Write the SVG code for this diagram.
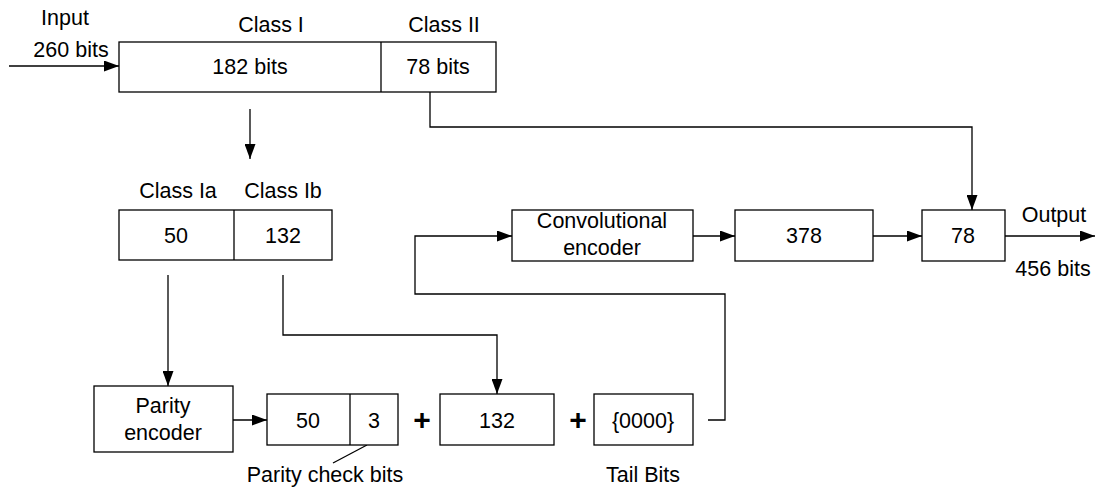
<svg xmlns="http://www.w3.org/2000/svg" width="1097" height="491" viewBox="0 0 1097 491">
  <defs>
    <marker id="arrow" viewBox="0 0 15 11" refX="15" refY="5.5" markerWidth="15" markerHeight="11" markerUnits="userSpaceOnUse" orient="auto">
      <path d="M0,0 L15,5.5 L0,11 Z" fill="#000"/>
    </marker>
    <style>
      rect, .div { fill: #fff; stroke: #000; stroke-width: 1.3; }
      .div { fill: none; }
      .wire { fill: none; stroke: #000; stroke-width: 1.3; }
      .arr { marker-end: url(#arrow); }
      text { font-family: "Liberation Sans", Arial, sans-serif; font-size: 21.5px; fill: #000; text-anchor: middle; }
      .plus { font-size: 30px; font-weight: bold; }
    </style>
  </defs>

  <rect width="1097" height="491" fill="#fff" style="stroke:none"/>

  <!-- connectors -->
  <g id="connectors">
    <line class="wire arr" x1="9" y1="66" x2="119" y2="66"/>
    <line class="wire arr" x1="250" y1="109" x2="250" y2="159"/>
    <path class="wire arr" d="M430 92 V127 H972 V210"/>
    <line class="wire arr" x1="693" y1="236" x2="735" y2="236"/>
    <line class="wire arr" x1="873" y1="236" x2="922" y2="236"/>
    <line class="wire arr" x1="1005" y1="236" x2="1095" y2="236"/>
    <path class="wire arr" d="M708 420 H725 V294 H415 V236 H512"/>
    <line class="wire arr" x1="168" y1="275" x2="168" y2="386"/>
    <path class="wire arr" d="M283 275 V335 H497 V394"/>
    <line class="wire arr" x1="233" y1="420" x2="267" y2="420"/>
    <line class="wire" x1="367" y1="445" x2="333" y2="463"/>
  </g>

  <!-- incoming speech frame -->
  <g id="input-frame">
    <text x="65" y="25">Input</text>
    <text x="71" y="57">260 bits</text>
    <text x="271" y="32">Class I</text>
    <text x="444" y="32">Class II</text>
    <rect x="119" y="42" width="377" height="50"/>
    <line class="div" x1="381" y1="42" x2="381" y2="92"/>
    <text x="250" y="74">182 bits</text>
    <text x="438" y="74">78 bits</text>
  </g>

  <!-- class I split -->
  <g id="class-i-split">
    <text x="178" y="198">Class Ia</text>
    <text x="283" y="198">Class Ib</text>
    <rect x="119" y="210" width="213" height="50"/>
    <line class="div" x1="234" y1="210" x2="234" y2="260"/>
    <text x="176" y="243">50</text>
    <text x="283" y="243">132</text>
  </g>

  <g id="conv-encoder">
    <rect x="512" y="210" width="181" height="51"/>
    <text x="602" y="228">Convolutional</text>
    <text x="602" y="255">encoder</text>
  </g>

  <g id="coded-378">
    <rect x="735" y="210" width="138" height="51"/>
    <text x="804" y="243">378</text>
  </g>

  <g id="output-frame">
    <rect x="922" y="210" width="83" height="51"/>
    <text x="963" y="243">78</text>
    <text x="1054" y="222">Output</text>
    <text x="1053" y="276">456 bits</text>
  </g>

  <g id="parity-encoder">
    <rect x="94" y="386" width="139" height="66"/>
    <text x="163" y="413">Parity</text>
    <text x="163" y="440">encoder</text>
  </g>

  <g id="parity-block">
    <rect x="267" y="394" width="131" height="51"/>
    <line class="div" x1="350" y1="394" x2="350" y2="445"/>
    <text x="308" y="428">50</text>
    <text x="374" y="428">3</text>
    <text x="325" y="482">Parity check bits</text>
  </g>

  <text class="plus" x="422" y="430">+</text>

  <g id="class-ib-block">
    <rect x="440" y="394" width="114" height="51"/>
    <text x="497" y="428">132</text>
  </g>

  <text class="plus" x="578" y="430">+</text>

  <g id="tail-block">
    <rect x="594" y="394" width="99" height="51"/>
    <text x="643" y="428">{0000}</text>
    <text x="643" y="482">Tail Bits</text>
  </g>
</svg>
